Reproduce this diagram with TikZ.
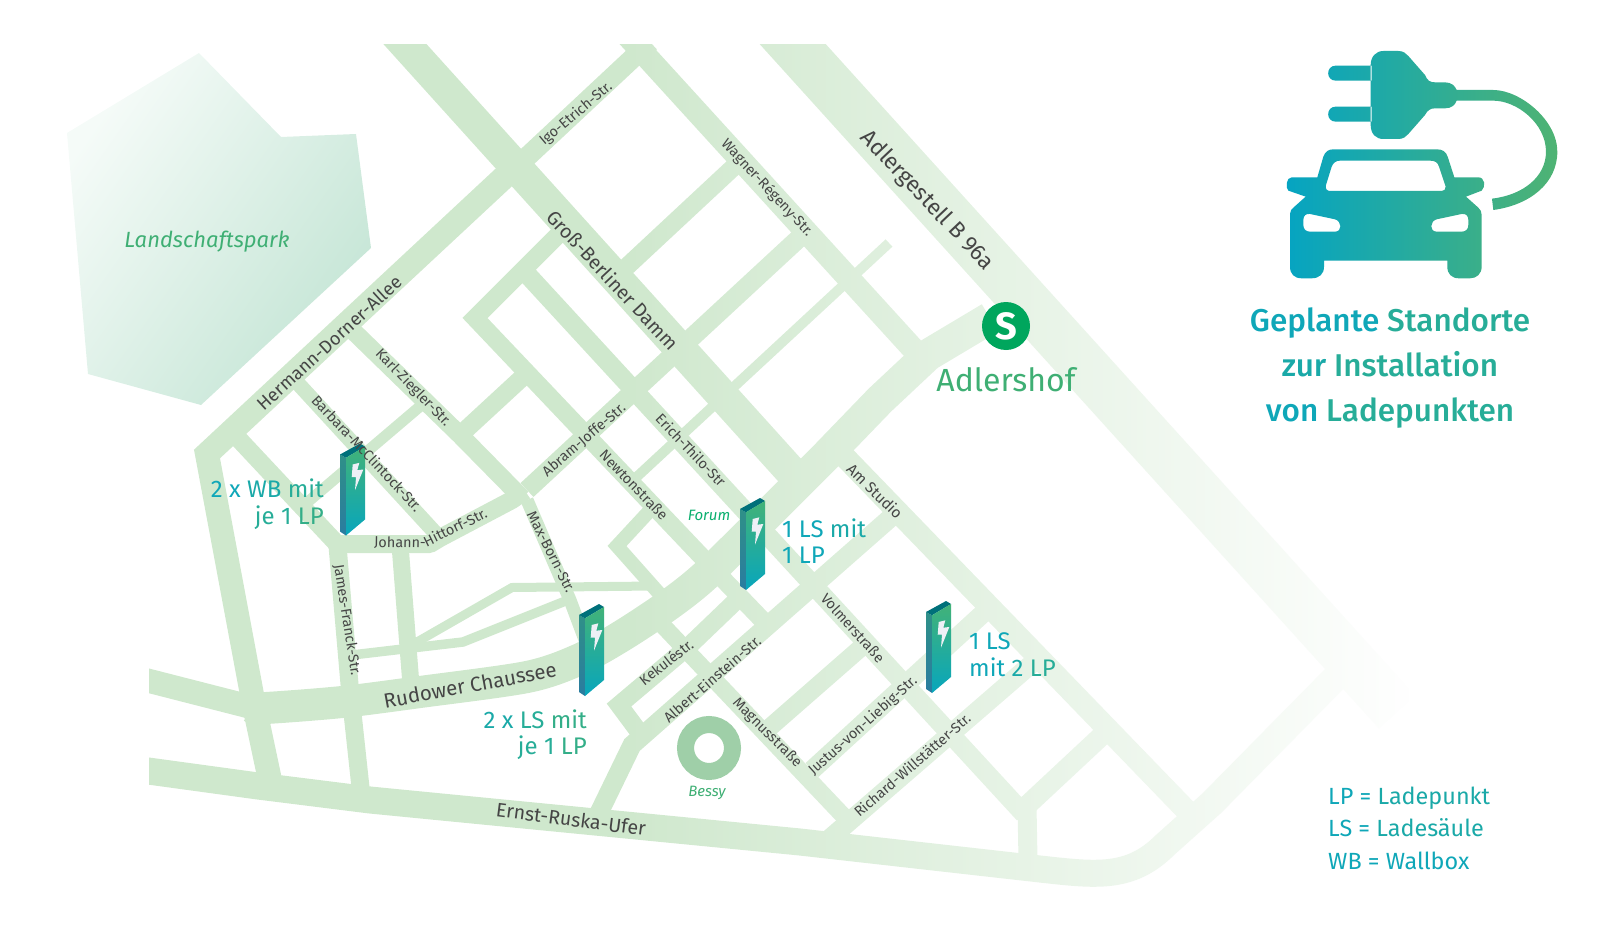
\documentclass[tikz,border=0pt]{standalone}
\usepackage{fontspec}
\setmainfont{Fira Sans}
\newfontfamily\firamed{Fira Sans Medium}
\usetikzlibrary{fadings}
\definecolor{roadgreen}{HTML}{CFE8CD}
\definecolor{streetgrey}{HTML}{454545}
\definecolor{labelgreen}{HTML}{3FAF74}
\definecolor{forumgreen}{HTML}{0AAF6E}
\definecolor{ringgreen}{HTML}{9FCFA8}
\definecolor{sgreen}{HTML}{00A65D}
\definecolor{tA}{HTML}{0FA7B8}
\definecolor{tB}{HTML}{1AA9A8}
\definecolor{tC}{HTML}{27AD98}
\definecolor{tD}{HTML}{33AE88}
\definecolor{tE}{HTML}{3FB07A}
\definecolor{pilTop}{HTML}{00707A}
\definecolor{pilSideA}{HTML}{2F9088}
\definecolor{pilSideB}{HTML}{2A7CA0}
\definecolor{pilFrontA}{HTML}{42B278}
\definecolor{pilFrontB}{HTML}{08A6BC}
\definecolor{pilBolt}{HTML}{EEF0F6}
\definecolor{parkstart}{HTML}{F5FBF8}
\definecolor{parkend}{HTML}{C4E5D5}
\definecolor{iconl}{HTML}{05A4C2}
\definecolor{iconr}{HTML}{4FB373}
\tikzfading[name=roadfade,left color=transparent!100,right color=transparent!0]
\newcommand{\fsz}[1]{\fontsize{#1}{#1}\selectfont}
\tikzset{
  road/.style={draw=roadgreen,line width=#1,line cap=butt,miter limit=10},
  street/.style={text=streetgrey,inner sep=0pt,font=\fsz{14.4}},
  bigstreet/.style={text=streetgrey,inner sep=0pt,font=\fsz{#1}},
  tlabel/.style={inner sep=0pt,font=\fsz{#1}},
  titlelabel/.style={inner sep=0pt,font=\fsz{31.5}\firamed,anchor=base},
  pillar/.pic={
    \shade[top color=pilSideA,bottom color=pilSideB] (0,11) -- (6,14.3) -- (6,92) -- (0,88) -- cycle;
    \fill[pilTop] (0,11) -- (20,0) -- (25,3) -- (6,14.3) -- cycle;
    \shade[top color=pilFrontA,bottom color=pilFrontB] (6,14.3) -- (25,3) -- (25,76) -- (6,92) -- cycle;
    \fill[pilBolt] (12.7,21) -- (19.3,19.3) -- (17.3,26.7) -- (23.3,26) -- (15,46.7) -- (16,33.7) -- (11.7,33.7) -- cycle;
  }
}
\begin{document}
\begin{tikzpicture}[x=1pt,y=-1pt]
\useasboundingbox (0,0) rectangle (1600,952);
% park
\shade[top color=parkstart,bottom color=parkend,shading angle=55]
  (199,53) -- (281,137) -- (356,134) -- (371,248) -- (201,405) -- (88,374) -- (67,133) -- cycle;
% roads
\begin{scope}
\clip (149,45) rectangle (1600,952);
\draw[road=32] (385,22) -- (795,476);
\draw[road=49] (770,19) -- (1397,712);
\draw[road=23] (615,22) -- (925,362);
\draw[road=22] (840,452) -- (1187,811);
\draw[road=27,line join=round] (130,768.5) -- (258,786) -- (370,800) -- (800,842) -- (1040,869)
   .. controls (1095,875) and (1130,880) .. (1165,845) -- (1212,803) -- (1345,668);
\draw[road=24] (130,676) -- (255,708);
\draw[road=32,line join=round] plot[smooth,tension=.5] coordinates {(252,707) (266,708) (342,702) (420,692) (527,677) (578,660) (620,637) (667,606) (706,575) (770,512)} -- (824,458) -- (880,400) -- (928,355) -- (990,318);
\draw[road=24] (515,167) -- (207,454) -- (253,700) -- (271,785);
\draw[road=20] (520,163.5) -- (650,42);
\draw[road=19] (527,490) -- (810,228);
\draw[road=18] (620,273) -- (738,163);
\draw[road=18] (558,235) -- (475,318) -- (720,576) -- (770,628);
\draw[road=19] (525,272) -- (1024,814);
\draw[road=19] (1027,806) -- (1028,860);
\draw[road=20] (1020,812) -- (1110,728);
\draw[road=10] (628,485) -- (889,243);
\draw[road=14] (655,505) -- (617,546) -- (665,600);
\draw[road=18,line join=round] (525,491) -- (512,500) -- (440,538) -- (430,544) -- (338,544);
\draw[road=13] (527,500) -- (570,600) -- (585,640);
\draw[road=9] (655,586) -- (512,587.5) -- (410,646);
\draw[road=9.5] (568,600) -- (463,642) -- (352,655);
\draw[road=17] (400,545) -- (411,685);
\draw[road=18] (337,540) -- (350,690) -- (361,792);
\draw[road=18] (235,435) -- (338,545);
\draw[road=15] (293,378) -- (440,538);
\draw[road=18] (348,326) -- (460,435) -- (522,498);
\draw[road=18] (460,435) -- (525,375);
\draw[road=11] (303,506) -- (424,403);
\draw[road=19] (905,505) -- (632,745) -- (598,815);
\draw[road=18] (740,597) -- (690,645) -- (619,705) -- (645,740);
\draw[road=17] (650,612) -- (852,825);
\draw[road=19] (812,770) -- (990,607);
\draw[road=19] (828,840) -- (1043,654);
\draw[road=18] (760,736) -- (872,638);
\fill[white,path fading=roadfade,fit fading=true] (620,40) rectangle (1410,900);
\fill[white] (1409,40) rectangle (1460,900);
\end{scope}
% ring
\draw[ringgreen,line width=17] (709,748) circle[radius=23.5];
% station
\fill[sgreen] (1006,326) circle[radius=24];
\node[inner sep=0pt,text=white,font=\fsz{38}\bfseries] (sb) at (1006,326) {S};
\node[anchor=base,inner sep=0pt,text=labelgreen,font=\fsz{32}] (adl) at (1006,391) {Adlershof};
% pillars
\pic at (340,443.5) {pillar};
\pic at (740,498) {pillar};
\pic at (579,604) {pillar};
\pic at (926,601) {pillar};
% street labels
\node[street,rotate=40] (n1) at (576,114) {Igo-Etrich-Str.};
\node[street,rotate=-47] (n2) at (767,188) {Wagner-Régeny-Str.};
\node[bigstreet=22.5,rotate=-46.6] (n3) at (927,201) {Adlergestell B 96a};
\node[bigstreet=19.5,rotate=-47] (n4) at (613,280) {Groß-Berliner Damm};
\node[bigstreet=18.3,rotate=42.5] (n5) at (329,343) {Hermann-Dorner-Allee};
\node[street,rotate=-46] (n6) at (413,388) {Karl-Ziegler-Str.};
\node[street,rotate=-46.8] (n7) at (367,453) {Barbara-McClintock-Str.};
\node[street,rotate=40.4] (n8) at (584,440) {Abram-Joffe-Str.};
\node[street,rotate=-46.5] (n9) at (691,450) {Erich-Thilo-Str};
\node[street,rotate=-46] (n10) at (634,485) {Newtonstraße};
\node[bigstreet=15.3,rotate=-44.5] (n11) at (875,491) {Am Studio};
\node[street,rotate=-1] (n12) at (400,543) {Johann-};
\node[street,rotate=26] (n13) at (455,527) {Hittorf-Str.};
\node[street,rotate=-81] (n14) at (347,620) {James-Franck-Str.};
\node[street,rotate=-63] (n15) at (551,552) {Max-Born-Str.};
\node[bigstreet=20.5,rotate=10.5] (n16) at (470,685) {Rudower Chaussee};
\node[bigstreet=19.6,rotate=-7.4] (n17) at (571,819) {Ernst-Ruska-Ufer};
\node[street,rotate=38] (n18) at (666,662) {Kekuléstr.};
\node[street,rotate=41] (n19) at (712,679) {Albert-Einstein-Str.};
\node[street,rotate=-45] (n20) at (767,733) {Magnusstraße};
\node[street,rotate=-48] (n21) at (853,628) {Volmerstraße};
\node[street,rotate=42] (n22) at (863,726) {Justus-von-Liebig-Str.};
\node[street,rotate=41] (n23) at (912,765) {Richard-Willstätter-Str.};
% place labels
\node[inner sep=0pt,anchor=base,text=labelgreen,font=\fsz{22}\itshape] (lp) at (207,247) {Landschaftspark};
\node[inner sep=0pt,anchor=base,text=forumgreen,font=\fsz{15}\itshape] (fo) at (709,520) {Forum};
\node[inner sep=0pt,anchor=base,text=labelgreen,font=\fsz{15}\itshape] (be) at (707,796) {Bessy};
% charging labels
\node[tlabel=24,anchor=base east] (a1) at (324,497) {\textcolor{tA}{2 x} \textcolor{tB}{WB} \textcolor{tC}{mit}};
\node[tlabel=24,anchor=base east] (a2) at (324,524) {\textcolor{tC}{je 1} \textcolor{tD}{LP}};
\node[tlabel=24,anchor=base west] (b1) at (782,537) {\textcolor{tA}{1 LS} \textcolor{tB}{mit}};
\node[tlabel=24,anchor=base west] (b2) at (782,563) {\textcolor{tA}{1 LP}};
\node[tlabel=24,anchor=base west] (c1) at (969,649) {\textcolor{tA}{1 LS}};
\node[tlabel=24,anchor=base west] (c2) at (969,676) {\textcolor{tA}{mit} \textcolor{tB}{2} \textcolor{tC}{LP}};
\node[tlabel=24,anchor=base east] (d1) at (587,728) {\textcolor{tB}{2 x} \textcolor{tC}{LS} \textcolor{tD}{mit}};
\node[tlabel=24,anchor=base east] (d2) at (587,754) {\textcolor{tC}{je 1} \textcolor{tD}{LP}};
% title
\node[titlelabel] (t1) at (1390,331) {\textcolor{tA}{Geplante} \textcolor{tC}{Standorte}};
\node[titlelabel] (t2) at (1390,376) {\textcolor{tB}{zur} \textcolor{tC}{Installation}};
\node[titlelabel] (t3) at (1390,421) {\textcolor{tA}{von} \textcolor{tC}{Ladepunkten}};
% legend
\node[tlabel=23.4,anchor=base west] (l1) at (1328,804) {\textcolor{tA}{LP =} \textcolor{tB}{Ladepunkt}};
\node[tlabel=23.4,anchor=base west] (l2) at (1328,836) {\textcolor{tA}{LS =} \textcolor{tB}{Ladesäule}};
\node[tlabel=23.4,anchor=base west] (l3) at (1328,869) {\textcolor{tA}{WB =} \textcolor{tA}{Wallbox}};
% icon
\begin{scope}[shift={(1290,40)},x=.3333pt,y=-.3333pt]
\shade[left color=iconl,right color=iconr,even odd rule]
 (245,77) -- (137,77) .. controls (107,77) and (107,122) .. (137,122) -- (245,122) -- cycle
 (245,200) -- (137,200) .. controls (107,200) and (107,245) .. (137,245) -- (245,245) -- cycle
 (242,75) .. controls (242,50) and (258,33) .. (280,33) -- (325,33) .. controls (340,33) and (348,40) .. (355,48)
 -- (405,105) .. controls (412,122) and (420,127) .. (435,127) -- (465,127) .. controls (485,127) and (495,138) .. (500,150)
 -- (610,150) .. controls (690,150) and (802,240) .. (802,335) .. controls (802,430) and (720,495) .. (610,510)
 -- (606,476) .. controls (700,465) and (768,410) .. (768,335) .. controls (768,250) and (680,182) .. (610,182)
 -- (500,182) .. controls (495,195) and (485,205) .. (465,205) -- (435,205) .. controls (420,205) and (412,212) .. (405,225)
 -- (355,282) .. controls (348,290) and (340,297) .. (325,297) -- (280,297) .. controls (258,297) and (242,282) .. (242,255) -- cycle
 (0,680) -- (0,522) .. controls (0,512) and (5,508) .. (10,503) -- (47,470) -- (-5,452) .. controls (-14,445) and (-12,412) .. (5,412)
 -- (82,412) -- (100,350) .. controls (106,335) and (115,328) .. (130,328) -- (440,328) .. controls (458,328) and (468,335) .. (473,350)
 -- (493,412) -- (565,412) .. controls (585,412) and (588,440) .. (575,452) -- (528,470) -- (565,503) .. controls (572,510) and (575,515) .. (575,525)
 -- (575,680) .. controls (575,702) and (560,715) .. (540,715) -- (507,715) .. controls (485,715) and (472,702) .. (472,680) -- (472,662)
 -- (102,662) -- (102,680) .. controls (102,702) and (88,715) .. (65,715) -- (35,715) .. controls (13,715) and (0,702) .. (0,680) -- cycle
 (108,435) -- (125,380) .. controls (130,367) and (140,362) .. (150,362) -- (420,362) .. controls (435,362) and (443,367) .. (447,380)
 -- (467,440) .. controls (468,448) and (462,453) .. (455,453) -- (120,453) .. controls (110,453) and (105,445) .. (108,435) -- cycle
 (40,540) .. controls (40,527) and (48,520) .. (60,522) -- (135,538) .. controls (155,543) and (158,575) .. (135,575) -- (60,575) .. controls (48,575) and (40,568) .. (40,555) -- cycle
 (535,540) .. controls (535,527) and (527,520) .. (515,522) -- (440,538) .. controls (420,543) and (417,575) .. (440,575) -- (515,575) .. controls (527,575) and (535,568) .. (535,555) -- cycle;
\end{scope}
\end{tikzpicture}
\end{document}
